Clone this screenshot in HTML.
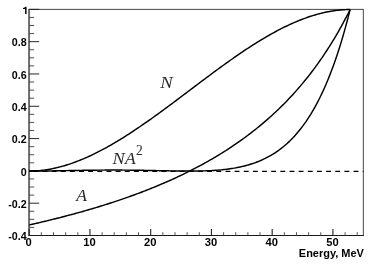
<!DOCTYPE html>
<html><head><meta charset="utf-8"><title>chart</title>
<style>html,body{margin:0;padding:0;background:#fff;}body{width:374px;height:264px;overflow:hidden;position:relative;font-family:"Liberation Sans",sans-serif;}</style>
</head><body>
<svg width="374" height="264" viewBox="0 0 374 264" style="position:absolute;left:0;top:0;will-change:transform;transform:translateZ(0)">
<rect x="29.2" y="9.35" width="334.10" height="226.15" fill="none" stroke="#333" stroke-width="0.9"/>
<line x1="29.10" y1="8.95" x2="29.10" y2="236.00" stroke="#6c6c6c" stroke-width="1.9"/>
<line x1="28.50" y1="235.5" x2="363.70" y2="235.5" stroke="#1a1a1a" stroke-width="1.05"/>
<line x1="29.2" y1="235.50" x2="39.2" y2="235.50" stroke="#1c1c1c" stroke-width="0.95"/>
<line x1="29.2" y1="227.42" x2="34.2" y2="227.42" stroke="#333" stroke-width="0.85"/>
<line x1="29.2" y1="219.35" x2="34.2" y2="219.35" stroke="#333" stroke-width="0.85"/>
<line x1="29.2" y1="211.27" x2="34.2" y2="211.27" stroke="#333" stroke-width="0.85"/>
<line x1="29.2" y1="203.19" x2="39.2" y2="203.19" stroke="#1c1c1c" stroke-width="0.95"/>
<line x1="29.2" y1="195.12" x2="34.2" y2="195.12" stroke="#333" stroke-width="0.85"/>
<line x1="29.2" y1="187.04" x2="34.2" y2="187.04" stroke="#333" stroke-width="0.85"/>
<line x1="29.2" y1="178.96" x2="34.2" y2="178.96" stroke="#333" stroke-width="0.85"/>
<line x1="29.2" y1="170.89" x2="39.2" y2="170.89" stroke="#1c1c1c" stroke-width="0.95"/>
<line x1="29.2" y1="162.81" x2="34.2" y2="162.81" stroke="#333" stroke-width="0.85"/>
<line x1="29.2" y1="154.73" x2="34.2" y2="154.73" stroke="#333" stroke-width="0.85"/>
<line x1="29.2" y1="146.66" x2="34.2" y2="146.66" stroke="#333" stroke-width="0.85"/>
<line x1="29.2" y1="138.58" x2="39.2" y2="138.58" stroke="#1c1c1c" stroke-width="0.95"/>
<line x1="29.2" y1="130.50" x2="34.2" y2="130.50" stroke="#333" stroke-width="0.85"/>
<line x1="29.2" y1="122.43" x2="34.2" y2="122.43" stroke="#333" stroke-width="0.85"/>
<line x1="29.2" y1="114.35" x2="34.2" y2="114.35" stroke="#333" stroke-width="0.85"/>
<line x1="29.2" y1="106.27" x2="39.2" y2="106.27" stroke="#1c1c1c" stroke-width="0.95"/>
<line x1="29.2" y1="98.19" x2="34.2" y2="98.19" stroke="#333" stroke-width="0.85"/>
<line x1="29.2" y1="90.12" x2="34.2" y2="90.12" stroke="#333" stroke-width="0.85"/>
<line x1="29.2" y1="82.04" x2="34.2" y2="82.04" stroke="#333" stroke-width="0.85"/>
<line x1="29.2" y1="73.96" x2="39.2" y2="73.96" stroke="#1c1c1c" stroke-width="0.95"/>
<line x1="29.2" y1="65.89" x2="34.2" y2="65.89" stroke="#333" stroke-width="0.85"/>
<line x1="29.2" y1="57.81" x2="34.2" y2="57.81" stroke="#333" stroke-width="0.85"/>
<line x1="29.2" y1="49.73" x2="34.2" y2="49.73" stroke="#333" stroke-width="0.85"/>
<line x1="29.2" y1="41.66" x2="39.2" y2="41.66" stroke="#1c1c1c" stroke-width="0.95"/>
<line x1="29.2" y1="33.58" x2="34.2" y2="33.58" stroke="#333" stroke-width="0.85"/>
<line x1="29.2" y1="25.50" x2="34.2" y2="25.50" stroke="#333" stroke-width="0.85"/>
<line x1="29.2" y1="17.43" x2="34.2" y2="17.43" stroke="#333" stroke-width="0.85"/>
<line x1="29.2" y1="9.35" x2="39.2" y2="9.35" stroke="#1c1c1c" stroke-width="0.95"/>
<line x1="29.20" y1="235.5" x2="29.20" y2="229.1" stroke="#222" stroke-width="1.1"/>
<line x1="41.35" y1="235.5" x2="41.35" y2="232.2" stroke="#444" stroke-width="0.9"/>
<line x1="53.50" y1="235.5" x2="53.50" y2="232.2" stroke="#444" stroke-width="0.9"/>
<line x1="65.65" y1="235.5" x2="65.65" y2="232.2" stroke="#444" stroke-width="0.9"/>
<line x1="77.80" y1="235.5" x2="77.80" y2="232.2" stroke="#444" stroke-width="0.9"/>
<line x1="89.95" y1="235.5" x2="89.95" y2="229.1" stroke="#222" stroke-width="1.1"/>
<line x1="102.09" y1="235.5" x2="102.09" y2="232.2" stroke="#444" stroke-width="0.9"/>
<line x1="114.24" y1="235.5" x2="114.24" y2="232.2" stroke="#444" stroke-width="0.9"/>
<line x1="126.39" y1="235.5" x2="126.39" y2="232.2" stroke="#444" stroke-width="0.9"/>
<line x1="138.54" y1="235.5" x2="138.54" y2="232.2" stroke="#444" stroke-width="0.9"/>
<line x1="150.69" y1="235.5" x2="150.69" y2="229.1" stroke="#222" stroke-width="1.1"/>
<line x1="162.84" y1="235.5" x2="162.84" y2="232.2" stroke="#444" stroke-width="0.9"/>
<line x1="174.99" y1="235.5" x2="174.99" y2="232.2" stroke="#444" stroke-width="0.9"/>
<line x1="187.14" y1="235.5" x2="187.14" y2="232.2" stroke="#444" stroke-width="0.9"/>
<line x1="199.29" y1="235.5" x2="199.29" y2="232.2" stroke="#444" stroke-width="0.9"/>
<line x1="211.44" y1="235.5" x2="211.44" y2="229.1" stroke="#222" stroke-width="1.1"/>
<line x1="223.59" y1="235.5" x2="223.59" y2="232.2" stroke="#444" stroke-width="0.9"/>
<line x1="235.73" y1="235.5" x2="235.73" y2="232.2" stroke="#444" stroke-width="0.9"/>
<line x1="247.88" y1="235.5" x2="247.88" y2="232.2" stroke="#444" stroke-width="0.9"/>
<line x1="260.03" y1="235.5" x2="260.03" y2="232.2" stroke="#444" stroke-width="0.9"/>
<line x1="272.18" y1="235.5" x2="272.18" y2="229.1" stroke="#222" stroke-width="1.1"/>
<line x1="284.33" y1="235.5" x2="284.33" y2="232.2" stroke="#444" stroke-width="0.9"/>
<line x1="296.48" y1="235.5" x2="296.48" y2="232.2" stroke="#444" stroke-width="0.9"/>
<line x1="308.63" y1="235.5" x2="308.63" y2="232.2" stroke="#444" stroke-width="0.9"/>
<line x1="320.78" y1="235.5" x2="320.78" y2="232.2" stroke="#444" stroke-width="0.9"/>
<line x1="332.93" y1="235.5" x2="332.93" y2="229.1" stroke="#222" stroke-width="1.1"/>
<line x1="345.08" y1="235.5" x2="345.08" y2="232.2" stroke="#444" stroke-width="0.9"/>
<line x1="357.23" y1="235.5" x2="357.23" y2="232.2" stroke="#444" stroke-width="0.9"/>
<line x1="29.2" y1="171.44" x2="363.3" y2="171.44" stroke="#000" stroke-width="1.3" stroke-dasharray="4.9,4.25" stroke-dashoffset="5.05"/>
<path d="M29.20,171.09 L30.67,171.08 L32.13,171.05 L33.60,171.00 L35.06,170.93 L36.53,170.84 L37.99,170.73 L39.46,170.60 L40.92,170.45 L42.39,170.29 L43.85,170.11 L45.32,169.90 L46.78,169.68 L48.25,169.45 L49.72,169.19 L51.18,168.92 L52.65,168.63 L54.11,168.32 L55.58,167.99 L57.04,167.65 L58.51,167.29 L59.97,166.91 L61.44,166.52 L62.90,166.11 L64.37,165.69 L65.83,165.25 L67.30,164.80 L68.77,164.33 L70.23,163.84 L71.70,163.34 L73.16,162.82 L74.63,162.29 L76.09,161.75 L77.56,161.19 L79.02,160.61 L80.49,160.03 L81.95,159.43 L83.42,158.81 L84.88,158.18 L86.35,157.54 L87.82,156.89 L89.28,156.22 L90.75,155.54 L92.21,154.85 L93.68,154.14 L95.14,153.43 L96.61,152.70 L98.07,151.96 L99.54,151.21 L101.00,150.44 L102.47,149.67 L103.93,148.88 L105.40,148.09 L106.87,147.28 L108.33,146.47 L109.80,145.64 L111.26,144.80 L112.73,143.95 L114.19,143.10 L115.66,142.23 L117.12,141.35 L118.59,140.47 L120.05,139.58 L121.52,138.67 L122.98,137.76 L124.45,136.84 L125.92,135.91 L127.38,134.98 L128.85,134.04 L130.31,133.08 L131.78,132.13 L133.24,131.16 L134.71,130.19 L136.17,129.21 L137.64,128.22 L139.10,127.23 L140.57,126.23 L142.03,125.22 L143.50,124.21 L144.97,123.19 L146.43,122.17 L147.90,121.14 L149.36,120.10 L150.83,119.07 L152.29,118.02 L153.76,116.97 L155.22,115.92 L156.69,114.86 L158.15,113.80 L159.62,112.73 L161.08,111.66 L162.55,110.59 L164.01,109.52 L165.48,108.44 L166.95,107.35 L168.41,106.27 L169.88,105.18 L171.34,104.09 L172.81,102.99 L174.27,101.90 L175.74,100.80 L177.20,99.70 L178.67,98.60 L180.13,97.50 L181.60,96.40 L183.06,95.29 L184.53,94.19 L186.00,93.08 L187.46,91.98 L188.93,90.87 L190.39,89.76 L191.86,88.66 L193.32,87.55 L194.79,86.45 L196.25,85.34 L197.72,84.24 L199.18,83.13 L200.65,82.03 L202.11,80.93 L203.58,79.83 L205.05,78.74 L206.51,77.64 L207.98,76.55 L209.44,75.46 L210.91,74.37 L212.37,73.28 L213.84,72.20 L215.30,71.12 L216.77,70.04 L218.23,68.97 L219.70,67.90 L221.16,66.84 L222.63,65.77 L224.10,64.72 L225.56,63.66 L227.03,62.61 L228.49,61.57 L229.96,60.53 L231.42,59.50 L232.89,58.47 L234.35,57.45 L235.82,56.43 L237.28,55.42 L238.75,54.41 L240.21,53.41 L241.68,52.42 L243.15,51.43 L244.61,50.45 L246.08,49.48 L247.54,48.51 L249.01,47.55 L250.47,46.60 L251.94,45.66 L253.40,44.72 L254.87,43.79 L256.33,42.87 L257.80,41.96 L259.26,41.06 L260.73,40.17 L262.20,39.28 L263.66,38.41 L265.13,37.54 L266.59,36.68 L268.06,35.84 L269.52,35.00 L270.99,34.17 L272.45,33.35 L273.92,32.55 L275.38,31.75 L276.85,30.97 L278.31,30.19 L279.78,29.43 L281.25,28.68 L282.71,27.94 L284.18,27.21 L285.64,26.49 L287.11,25.79 L288.57,25.09 L290.04,24.42 L291.50,23.75 L292.97,23.09 L294.43,22.45 L295.90,21.82 L297.36,21.21 L298.83,20.61 L300.30,20.02 L301.76,19.45 L303.23,18.89 L304.69,18.34 L306.16,17.81 L307.62,17.30 L309.09,16.80 L310.55,16.31 L312.02,15.84 L313.48,15.38 L314.95,14.94 L316.41,14.52 L317.88,14.11 L319.35,13.72 L320.81,13.35 L322.28,12.99 L323.74,12.64 L325.21,12.32 L326.67,12.01 L328.14,11.72 L329.60,11.45 L331.07,11.19 L332.53,10.95 L334.00,10.73 L335.46,10.53 L336.93,10.35 L338.40,10.18 L339.86,10.03 L341.33,9.91 L342.79,9.80 L344.26,9.71 L345.72,9.64 L347.19,9.59 L348.65,9.56 L350.12,9.55" fill="none" stroke="#000" stroke-width="1.45" stroke-linejoin="round"/>
<path d="M29.20,224.93 L30.67,224.60 L32.13,224.27 L33.60,223.94 L35.06,223.60 L36.53,223.27 L37.99,222.93 L39.46,222.59 L40.92,222.24 L42.39,221.90 L43.85,221.55 L45.32,221.20 L46.78,220.85 L48.25,220.49 L49.72,220.14 L51.18,219.78 L52.65,219.42 L54.11,219.05 L55.58,218.69 L57.04,218.32 L58.51,217.95 L59.97,217.58 L61.44,217.20 L62.90,216.82 L64.37,216.44 L65.83,216.06 L67.30,215.67 L68.77,215.29 L70.23,214.90 L71.70,214.50 L73.16,214.11 L74.63,213.71 L76.09,213.31 L77.56,212.90 L79.02,212.50 L80.49,212.09 L81.95,211.68 L83.42,211.26 L84.88,210.84 L86.35,210.42 L87.82,210.00 L89.28,209.57 L90.75,209.14 L92.21,208.71 L93.68,208.28 L95.14,207.84 L96.61,207.40 L98.07,206.95 L99.54,206.50 L101.00,206.05 L102.47,205.60 L103.93,205.14 L105.40,204.68 L106.87,204.21 L108.33,203.75 L109.80,203.27 L111.26,202.80 L112.73,202.32 L114.19,201.84 L115.66,201.35 L117.12,200.87 L118.59,200.37 L120.05,199.88 L121.52,199.38 L122.98,198.87 L124.45,198.37 L125.92,197.85 L127.38,197.34 L128.85,196.82 L130.31,196.30 L131.78,195.77 L133.24,195.24 L134.71,194.70 L136.17,194.16 L137.64,193.62 L139.10,193.07 L140.57,192.52 L142.03,191.96 L143.50,191.40 L144.97,190.83 L146.43,190.26 L147.90,189.69 L149.36,189.11 L150.83,188.52 L152.29,187.93 L153.76,187.34 L155.22,186.74 L156.69,186.14 L158.15,185.53 L159.62,184.91 L161.08,184.29 L162.55,183.67 L164.01,183.04 L165.48,182.40 L166.95,181.76 L168.41,181.12 L169.88,180.47 L171.34,179.81 L172.81,179.14 L174.27,178.48 L175.74,177.80 L177.20,177.12 L178.67,176.43 L180.13,175.74 L181.60,175.04 L183.06,174.34 L184.53,173.63 L186.00,172.91 L187.46,172.18 L188.93,171.45 L190.39,170.72 L191.86,169.97 L193.32,169.22 L194.79,168.46 L196.25,167.70 L197.72,166.92 L199.18,166.14 L200.65,165.36 L202.11,164.56 L203.58,163.76 L205.05,162.95 L206.51,162.13 L207.98,161.31 L209.44,160.47 L210.91,159.63 L212.37,158.78 L213.84,157.92 L215.30,157.06 L216.77,156.18 L218.23,155.30 L219.70,154.40 L221.16,153.50 L222.63,152.59 L224.10,151.67 L225.56,150.74 L227.03,149.80 L228.49,148.85 L229.96,147.89 L231.42,146.92 L232.89,145.94 L234.35,144.95 L235.82,143.95 L237.28,142.94 L238.75,141.91 L240.21,140.88 L241.68,139.83 L243.15,138.78 L244.61,137.71 L246.08,136.63 L247.54,135.54 L249.01,134.43 L250.47,133.32 L251.94,132.19 L253.40,131.05 L254.87,129.89 L256.33,128.72 L257.80,127.54 L259.26,126.35 L260.73,125.14 L262.20,123.91 L263.66,122.67 L265.13,121.42 L266.59,120.15 L268.06,118.87 L269.52,117.57 L270.99,116.25 L272.45,114.92 L273.92,113.57 L275.38,112.21 L276.85,110.83 L278.31,109.43 L279.78,108.01 L281.25,106.57 L282.71,105.12 L284.18,103.65 L285.64,102.16 L287.11,100.65 L288.57,99.11 L290.04,97.56 L291.50,95.99 L292.97,94.40 L294.43,92.78 L295.90,91.14 L297.36,89.49 L298.83,87.80 L300.30,86.10 L301.76,84.37 L303.23,82.61 L304.69,80.83 L306.16,79.03 L307.62,77.20 L309.09,75.34 L310.55,73.45 L312.02,71.54 L313.48,69.60 L314.95,67.63 L316.41,65.63 L317.88,63.60 L319.35,61.54 L320.81,59.45 L322.28,57.32 L323.74,55.16 L325.21,52.97 L326.67,50.74 L328.14,48.47 L329.60,46.17 L331.07,43.84 L332.53,41.46 L334.00,39.04 L335.46,36.59 L336.93,34.09 L338.40,31.55 L339.86,28.96 L341.33,26.33 L342.79,23.66 L344.26,20.94 L345.72,18.17 L347.19,15.35 L348.65,12.47 L350.12,9.55" fill="none" stroke="#000" stroke-width="1.45" stroke-linejoin="round"/>
<path d="M29.20,171.09 L30.67,171.08 L32.13,171.08 L33.60,171.08 L35.06,171.07 L36.53,171.06 L37.99,171.05 L39.46,171.04 L40.92,171.02 L42.39,171.01 L43.85,170.99 L45.32,170.97 L46.78,170.95 L48.25,170.93 L49.72,170.91 L51.18,170.89 L52.65,170.87 L54.11,170.84 L55.58,170.82 L57.04,170.79 L58.51,170.77 L59.97,170.74 L61.44,170.71 L62.90,170.69 L64.37,170.66 L65.83,170.63 L67.30,170.61 L68.77,170.58 L70.23,170.55 L71.70,170.53 L73.16,170.50 L74.63,170.47 L76.09,170.45 L77.56,170.42 L79.02,170.40 L80.49,170.37 L81.95,170.35 L83.42,170.33 L84.88,170.30 L86.35,170.28 L87.82,170.26 L89.28,170.24 L90.75,170.22 L92.21,170.20 L93.68,170.19 L95.14,170.17 L96.61,170.16 L98.07,170.14 L99.54,170.13 L101.00,170.12 L102.47,170.11 L103.93,170.10 L105.40,170.09 L106.87,170.08 L108.33,170.08 L109.80,170.08 L111.26,170.07 L112.73,170.07 L114.19,170.07 L115.66,170.07 L117.12,170.08 L118.59,170.08 L120.05,170.08 L121.52,170.09 L122.98,170.10 L124.45,170.11 L125.92,170.12 L127.38,170.13 L128.85,170.15 L130.31,170.16 L131.78,170.18 L133.24,170.19 L134.71,170.21 L136.17,170.23 L137.64,170.25 L139.10,170.27 L140.57,170.30 L142.03,170.32 L143.50,170.34 L144.97,170.37 L146.43,170.40 L147.90,170.42 L149.36,170.45 L150.83,170.48 L152.29,170.51 L153.76,170.54 L155.22,170.57 L156.69,170.60 L158.15,170.63 L159.62,170.66 L161.08,170.69 L162.55,170.72 L164.01,170.75 L165.48,170.78 L166.95,170.81 L168.41,170.84 L169.88,170.86 L171.34,170.89 L172.81,170.92 L174.27,170.94 L175.74,170.96 L177.20,170.99 L178.67,171.01 L180.13,171.02 L181.60,171.04 L183.06,171.05 L184.53,171.07 L186.00,171.08 L187.46,171.08 L188.93,171.09 L190.39,171.09 L191.86,171.08 L193.32,171.07 L194.79,171.06 L196.25,171.05 L197.72,171.03 L199.18,171.00 L200.65,170.97 L202.11,170.94 L203.58,170.90 L205.05,170.85 L206.51,170.80 L207.98,170.74 L209.44,170.67 L210.91,170.60 L212.37,170.52 L213.84,170.43 L215.30,170.33 L216.77,170.23 L218.23,170.11 L219.70,169.99 L221.16,169.85 L222.63,169.70 L224.10,169.55 L225.56,169.38 L227.03,169.20 L228.49,169.01 L229.96,168.81 L231.42,168.59 L232.89,168.36 L234.35,168.11 L235.82,167.85 L237.28,167.57 L238.75,167.28 L240.21,166.97 L241.68,166.64 L243.15,166.30 L244.61,165.94 L246.08,165.55 L247.54,165.15 L249.01,164.73 L250.47,164.28 L251.94,163.81 L253.40,163.32 L254.87,162.81 L256.33,162.27 L257.80,161.70 L259.26,161.11 L260.73,160.49 L262.20,159.84 L263.66,159.17 L265.13,158.46 L266.59,157.72 L268.06,156.95 L269.52,156.15 L270.99,155.31 L272.45,154.44 L273.92,153.52 L275.38,152.58 L276.85,151.59 L278.31,150.56 L279.78,149.49 L281.25,148.37 L282.71,147.21 L284.18,146.01 L285.64,144.76 L287.11,143.46 L288.57,142.11 L290.04,140.70 L291.50,139.24 L292.97,137.73 L294.43,136.16 L295.90,134.53 L297.36,132.84 L298.83,131.09 L300.30,129.27 L301.76,127.38 L303.23,125.43 L304.69,123.40 L306.16,121.31 L307.62,119.13 L309.09,116.88 L310.55,114.55 L312.02,112.13 L313.48,109.63 L314.95,107.04 L316.41,104.36 L317.88,101.59 L319.35,98.71 L320.81,95.74 L322.28,92.67 L323.74,89.49 L325.21,86.19 L326.67,82.79 L328.14,79.27 L329.60,75.63 L331.07,71.86 L332.53,67.97 L334.00,63.94 L335.46,59.77 L336.93,55.47 L338.40,51.02 L339.86,46.42 L341.33,41.66 L342.79,36.74 L344.26,31.66 L345.72,26.40 L347.19,20.97 L348.65,15.35 L350.12,9.55" fill="none" stroke="#000" stroke-width="1.45" stroke-linejoin="round"/>
<path d="M26.55,13.90 L25.08,13.90 L25.08,8.98 L23.03,8.98 L23.03,8.00 Q24.88,7.90 25.41,6.81 L26.55,6.81 Z" fill="#000"/>
<text transform="translate(26.6,46.46) scale(1.0,1)" text-anchor="end" font-family="Liberation Sans, sans-serif" font-weight="bold" font-size="10.7" fill="#000">0.8</text>
<text transform="translate(26.6,78.76) scale(1.0,1)" text-anchor="end" font-family="Liberation Sans, sans-serif" font-weight="bold" font-size="10.7" fill="#000">0.6</text>
<text transform="translate(26.6,111.07) scale(1.0,1)" text-anchor="end" font-family="Liberation Sans, sans-serif" font-weight="bold" font-size="10.7" fill="#000">0.4</text>
<text transform="translate(26.6,143.38) scale(1.0,1)" text-anchor="end" font-family="Liberation Sans, sans-serif" font-weight="bold" font-size="10.7" fill="#000">0.2</text>
<text transform="translate(26.6,175.69) scale(1.0,1)" text-anchor="end" font-family="Liberation Sans, sans-serif" font-weight="bold" font-size="10.7" fill="#000">0</text>
<text transform="translate(26.6,207.99) scale(1.0,1)" text-anchor="end" font-family="Liberation Sans, sans-serif" font-weight="bold" font-size="10.7" fill="#000">-0.2</text>
<text transform="translate(26.6,240.3) scale(1.0,1)" text-anchor="end" font-family="Liberation Sans, sans-serif" font-weight="bold" font-size="10.7" fill="#000">-0.4</text>
<text transform="translate(28.65,246.4) scale(1.05,1)" text-anchor="middle" font-family="Liberation Sans, sans-serif" font-weight="bold" font-size="10.7" fill="#000">0</text>
<text transform="translate(89.4,246.4) scale(1.05,1)" text-anchor="middle" font-family="Liberation Sans, sans-serif" font-weight="bold" font-size="10.7" fill="#000">10</text>
<text transform="translate(150.14,246.4) scale(1.05,1)" text-anchor="middle" font-family="Liberation Sans, sans-serif" font-weight="bold" font-size="10.7" fill="#000">20</text>
<text transform="translate(210.89,246.4) scale(1.05,1)" text-anchor="middle" font-family="Liberation Sans, sans-serif" font-weight="bold" font-size="10.7" fill="#000">30</text>
<text transform="translate(271.63,246.4) scale(1.05,1)" text-anchor="middle" font-family="Liberation Sans, sans-serif" font-weight="bold" font-size="10.7" fill="#000">40</text>
<text transform="translate(332.38,246.4) scale(1.05,1)" text-anchor="middle" font-family="Liberation Sans, sans-serif" font-weight="bold" font-size="10.7" fill="#000">50</text>
<text transform="translate(363.9,257.1) scale(1.057,1)" text-anchor="end" font-family="Liberation Sans, sans-serif" font-weight="bold" font-size="10.4" fill="#000">Energy, MeV</text>
<text transform="translate(160.2,88.1) scale(1.1,1)" font-family="Liberation Serif, serif" font-style="italic" font-size="17" fill="#2b2b2b">N</text>
<text transform="translate(76.3,201) scale(1.03,1)" font-family="Liberation Serif, serif" font-style="italic" font-size="17" fill="#2b2b2b">A</text>
<text transform="translate(112.4,164.1) scale(1.08,1)" font-family="Liberation Serif, serif" font-style="italic" font-size="17" fill="#2b2b2b">N</text>
<text transform="translate(124.9,164.1) scale(1.03,1)" font-family="Liberation Serif, serif" font-style="italic" font-size="17" fill="#2b2b2b">A</text>
<text transform="translate(136.0,154.8) scale(0.9,1)" font-family="Liberation Serif, serif" font-style="normal" font-size="15" fill="#2b2b2b">2</text>
</svg>
</body></html>
